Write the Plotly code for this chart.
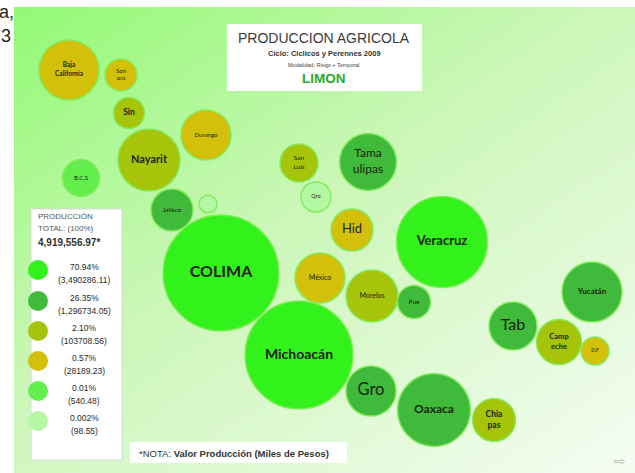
import base64, struct, zlib
import plotly.graph_objects as go

# ---------------- data ----------------
states = ["Baja<br>California", "Son<br>ora", "Sin", "Durango", "Nayarit", "B.C.S", "Jalisco", "",
          "COLIMA", "Michoacán", "San<br>Luis", "Qro", "Tama<br>ulipas", "Hid", "Veracruz",
          "México", "Morelos", "Pue", "Gro", "Oaxaca", "Chia<br>pas", "Yucatán", "Tab",
          "Camp<br>eche", "D.F"]
x_pos = [69, 121, 129, 206, 149, 81, 172, 208, 221, 299, 299, 316, 368, 352, 442,
         320, 372, 414, 371, 434, 494, 592, 513, 559, 595]
y_pos = [70, 75, 113, 135, 160, 178, 210, 204, 273, 355, 163, 197, 162, 230, 242,
         278, 296, 302, 391, 410, 420, 292, 326, 342, 351]
bubble_size = [60, 32, 31, 50, 62, 37, 42, 18, 116, 108, 38, 30, 57, 42, 91,
               50, 52, 33, 50, 73, 43, 60, 48, 45, 28]
tier = [3, 3, 2, 3, 2, 4, 1, 5, 0, 0, 2, 5, 1, 3, 0, 3, 2, 1, 1, 1, 2, 1, 1, 2, 3]
label_size = [6.5, 6, 8.5, 6, 11, 6, 6.5, 6, 16, 14, 6.5, 5.5, 12, 13, 13,
              7, 7, 6.5, 16.5, 12, 8.5, 8, 16, 7.5, 5]
label_bold = [1, 0, 1, 0, 1, 0, 0, 0, 1, 1, 0, 0, 0, 0, 1, 0, 0, 0, 0, 1, 1, 1, 0, 1, 0]

tier_colors = ["#33f21c", "#3fba3a", "#a5c40a", "#d2c00a", "#62ee4c", "#b4f8a4"]
legend_pct = ["70.94%", "26.35%", "2.10%", "0.57%", "0.01%", "0.002%"]
legend_val = ["(3,490286.11)", "(1,296734.05)", "(103708.56)", "(28189.23)", "(540.48)", "(98.55)"]
legend_y = [270, 301, 331, 361, 391, 421]

title_lines = ["PRODUCCION AGRICOLA", "Ciclo: Ciclicos y Perennes 2009",
               "Modalidad: Riego + Temporal", "LIMON"]
total_lines = ["PRODUCCIÓN", "TOTAL: (100%)", "4,919,556.97*"]
note_text = "*NOTA: <b>Valor Producción (Miles de Pesos)</b>"

W, H = 635, 473

# ---------------- background gradient (PNG) ----------------
def make_png(w, h):
    stops = [(0.0, (148, 250, 118)), (0.45, (205, 247, 186)), (1.0, (246, 253, 244))]
    def col(t):
        for (t0, c0), (t1, c1) in zip(stops[:-1], stops[1:]):
            if t <= t1:
                f = (t - t0) / (t1 - t0)
                return [int(c0[i] + (c1[i] - c0[i]) * f) for i in range(3)]
        return list(stops[-1][1])
    rows = []
    for j in range(h):
        row = bytearray(b"\x00")
        for i in range(w):
            t = (i / w + 1.1 * j / h) / 2.1
            row += bytes(col(t))
        rows.append(bytes(row))
    raw = b"".join(rows)
    def chunk(tag, data):
        c = struct.pack(">I", len(data)) + tag + data
        return c + struct.pack(">I", zlib.crc32(tag + data) & 0xffffffff)
    png = b"\x89PNG\r\n\x1a\n" + chunk(b"IHDR", struct.pack(">IIBBBBB", w, h, 8, 2, 0, 0, 0)) \
        + chunk(b"IDAT", zlib.compress(raw, 9)) + chunk(b"IEND", b"")
    return "data:image/png;base64," + base64.b64encode(png).decode()

bg = make_png(160, 120)

fig = go.Figure()

# bubbles
texts = [("<b>%s</b>" % s if b and s else s) for s, b in zip(states, label_bold)]
fig.add_trace(go.Scatter(
    x=x_pos, y=y_pos, mode="markers+text",
    text=texts, textposition="middle center",
    textfont=dict(size=label_size, color="#1a2410", family="Lato"),
    marker=dict(size=bubble_size, color=[tier_colors[t] for t in tier],
                line=dict(color="rgba(130,235,90,0.95)", width=1.5), opacity=1),
    hoverinfo="skip", showlegend=False))

# legend circles
fig.add_trace(go.Scatter(
    x=[38] * len(legend_y), y=legend_y, mode="markers",
    marker=dict(size=20, color=tier_colors, line=dict(width=0)),
    hoverinfo="skip", showlegend=False))

shapes = [
    dict(type="rect", xref="x", yref="y", x0=227, x1=422, y0=24, y1=91,
         fillcolor="white", line=dict(width=0), layer="below"),
    dict(type="rect", xref="x", yref="y", x0=31, x1=122, y0=209, y1=460,
         fillcolor="white", line=dict(color="#d8d8d8", width=1), layer="below"),
    dict(type="rect", xref="x", yref="y", x0=130, x1=347, y0=442, y1=463,
         fillcolor="white", line=dict(width=0), layer="below"),
]

ann = []
def A(x, y, text, size, color="#333333", xanchor="center", family="Liberation Sans"):
    ann.append(dict(x=x, y=y, xref="x", yref="y", text=text, showarrow=False,
                    xanchor=xanchor, yanchor="middle",
                    font=dict(size=size, color=color, family=family)))

A(324, 38, title_lines[0], 14, "#3a3a3a")
A(324, 53, "<b>" + title_lines[1] + "</b>", 7.5, "#333333")
A(324, 65, title_lines[2], 5.5, "#444444")
A(324, 78, "<b>" + title_lines[3] + "</b>", 13.5, "#2aa82a")

A(36, 216, total_lines[0], 8, "#555555", "left")
A(36, 228, total_lines[1], 8, "#555555", "left")
A(36, 242, "<b>" + total_lines[2] + "</b>", 10, "#333333", "left")
for yy, p, v in zip(legend_y, legend_pct, legend_val):
    A(84, yy - 3, p, 8.5, "#2a2a2a")
    A(84, yy + 10, v, 8.5, "#2a2a2a")

A(137, 453, note_text, 9.5, "#333333", "left")

A(620, 461, "⇨", 14, "#b0bcb0", "center", "DejaVu Sans")

for yy, t in [(12, "a,"), (36, "3")]:
    ann.append(dict(x=0, y=1 - yy / H, xref="paper", yref="paper", text=t, showarrow=False,
                    xanchor="right" if t == "3" else "left", xshift=13 if t == "3" else -3,
                    yanchor="middle", font=dict(size=18, color="#222222", family="Liberation Sans")))

fig.update_layout(
    width=W, height=H, margin=dict(l=0, r=0, t=0, b=0),
    paper_bgcolor="white", plot_bgcolor="rgba(0,0,0,0)",
    xaxis=dict(range=[0, W], visible=False, fixedrange=True),
    yaxis=dict(range=[H, 0], visible=False, fixedrange=True),
    shapes=shapes, annotations=ann,
    images=[dict(source=bg, xref="paper", yref="paper", x=14 / W, y=1 - 7 / H,
                 sizex=(W - 14) / W, sizey=(H - 7) / H, xanchor="left", yanchor="top",
                 sizing="stretch", layer="below")],
)

fig.write_html("out.html", config={"displayModeBar": False},
               post_script="document.body.style.margin='0';document.body.style.overflow='hidden';")
